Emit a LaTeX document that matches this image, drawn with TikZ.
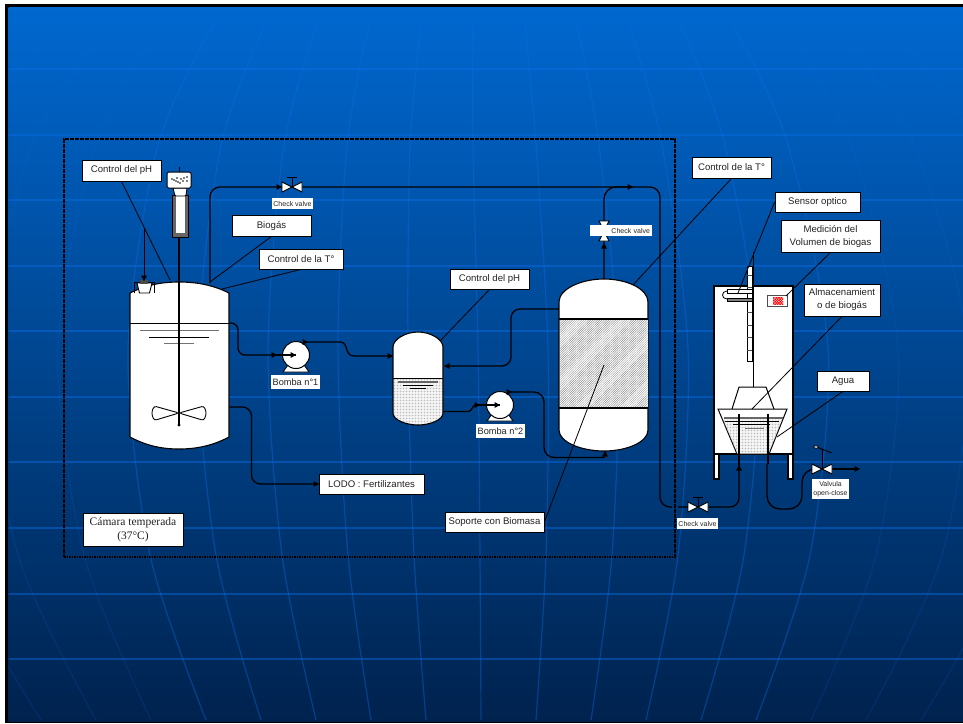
\documentclass[tikz,border=0pt]{standalone}
\usepackage{fontspec}
\setmainfont{Liberation Sans}
\newfontfamily\timesf{Liberation Serif}
\usetikzlibrary{patterns.meta}
\definecolor{gridc}{RGB}{10,110,230}
\definecolor{inkc}{RGB}{35,35,35}
\tikzset{
  lblbox/.style={draw=black,line width=.8pt,fill=white,text=inkc,inner sep=0pt,align=center,font=\fontsize{9.6}{13}\selectfont},
  tag/.style={fill=white,text=inkc,inner sep=0pt,align=center},
  smalltag/.style={tag,font=\fontsize{7}{9.5}\selectfont},
  bombatag/.style={tag,font=\fontsize{9.2}{11}\selectfont},
  pipe/.style={line width=1.3pt,black,rounded corners=#1},
  pipe/.default=9pt,
  leader/.style={line width=.8pt,black},
  vessel/.style={draw=black,line width=1.1pt,fill=white},
  packing/.style={pattern={Lines[angle=45,distance=1.6pt,line width=.3pt]},pattern color=black!55},
  stipple/.style={pattern={Dots[radius=.3pt,distance=1.5pt]},pattern color=black!40},
  tickg/.style={line width=1pt,black!55},
  tickk/.style={line width=.7pt,black}
}
\newcommand{\lbl}[7][]{%
  \pgfmathsetmacro\cx{(#3+#5)/2}\pgfmathsetmacro\cy{(#4+#6)/2}%
  \pgfmathsetmacro\ww{#5-#3}\pgfmathsetmacro\hh{#6-#4}%
  \fill[black!55] (#3+.8,#4+.8) rectangle (#5+.8,#6+.8);
  \node[lblbox,minimum width=\ww pt,minimum height=\hh pt,#1] (#2) at (\cx,\cy) {#7};}
\newcommand{\atip}[3]{\fill[black,shift={(#1,#2)},rotate=#3] (0,0)--(-5.5,-3)--(-5.5,3)--cycle;}
\newcommand{\vbow}[3]{% name x y
  \coordinate (#1) at (#2,#3);
  \draw[black,line width=.9pt,fill=white] (#2-10,#3-5)--(#2,#3)--(#2-10,#3+5)--cycle;
  \draw[black,line width=.9pt,fill=white] (#2+10,#3-5)--(#2,#3)--(#2+10,#3+5)--cycle;}
\begin{document}
\begin{tikzpicture}[x=1pt,y=-1pt]
\useasboundingbox (0,0) rectangle (963,723);
\fill[white] (0,0) rectangle (963,723);
\fill[black] (5,4) rectangle (963,723);
\begin{scope}
\clip (8.5,7) rectangle (963,721);
\shade[top color={rgb,255:red,0;green,104;blue,208},middle color={rgb,255:red,0;green,76;blue,152},bottom color={rgb,255:red,0;green,34;blue,78}] (8,6) rectangle (963,722);
\foreach \yy in {69,135,200,266,331,397,462,528,594,659}
  \draw[gridc,opacity=.45,line width=1.2pt] (8,\yy)--(963,\yy);
\foreach \k in {-8,...,8}{
  \pgfmathsetmacro\op{abs(\k)>5?0.15:0.38}
  \draw[gridc,opacity=\op,line width=1.2pt] plot[smooth] coordinates {({473+\k*52},25) ({473+\k*63},145) ({478+\k*70},350) ({480+\k*66},555) ({481+\k*55},720)};
}
\end{scope}
% chamber frame
\node[draw=black,line width=2.4pt,dash pattern=on 1.6pt off .9pt,minimum width=611pt,minimum height=418pt,inner sep=0pt] (camara) at (369.5,348) {};
% named pipe ends
\coordinate (gasout) at (210,283);
\coordinate (lvl) at (130,323);
\coordinate (slout) at (229,407);
% pipes
\draw[pipe=10pt] (gasout)--(210,187)--(660,187)--(660,507)--(672,507);
\draw[pipe=12pt] (604,281)--(604,187)--(632,187);
\draw[pipe=7pt] (lvl)--(238,323)--(238,355)--(296,355);
\draw[pipe] (slout)--(251.5,407)--(251.5,484)--(318,484);
\draw[pipe=0pt] (304,342)--(340,342) .. controls (349,342) and (344,356) .. (354,356)--(392,356);
\draw[pipe] (560,309)--(511,309)--(511,366)--(445,366);
\draw[pipe=0pt] (443,411.5)--(468,411.5) .. controls (473,411.5) and (471,405) .. (477,405)--(499,405);
\draw[pipe=10pt] (508,392)--(544,392)--(544,457.5)--(604,457.5);
\draw[pipe=0pt] (604,457.5)--(606,452);
\draw[pipe=9pt] (678,507)--(739,507)--(739,466);
\draw[pipe=13pt] (767,464)--(767,509)--(802,509)--(802,469)--(822,469);
\draw[pipe=0pt] (832,469)--(858,469);
% reactor
\draw[vessel] (130,293) .. controls (145,285.5) and (160,282) .. (179,282) .. controls (198,282) and (214,285.5) .. (229,293)--(229,437) .. controls (214,445) and (198,449) .. (179,449) .. controls (160,449) and (145,445) .. (130,437)--cycle;
\draw[line width=.9pt] (lvl)--(229,323);
\draw[tickg] (140,330)--(219,330);
\draw[tickk] (149,337)--(209,337);
\draw[tickg] (164,343)--(194,343);
% impeller
\draw[line width=.9pt,fill=white,rounded corners=2.5pt] (179,413)--(154,406)--(151.5,413)--(154,420.5)--cycle;
\draw[line width=.9pt,fill=white,rounded corners=2.5pt] (179,413)--(204,406)--(206.5,413)--(204,420.5)--cycle;
\draw[line width=2.4pt] (179,237)--(179,424);
\fill (179,425) circle (1.7);
% motor
\draw[line width=1pt] (179,167)--(179,172);
\draw[line width=.9pt,fill=black!60] (172,195) rectangle (188,237);
\fill[white] (175.5,195) rectangle (185,233);
\draw[line width=.9pt,fill=white,rounded corners=1pt] (173,188)--(175,196)--(186,196)--(187,188)--cycle;
\draw[line width=1pt,fill=white,rounded corners=1.5pt] (167,172) rectangle (191,188);
\foreach \px/\py in {172/179, 174/180, 176/181, 178/182, 177/178, 181/179, 183/181, 184/178, 187/177, 187/181, 180/183}
  \fill (\px,\py) circle (.85);
% pH probe
\draw[line width=.8pt] (134.5,293)--(134.5,282)--(154,282)--(154,293);
\draw[line width=.9pt,fill=white] (137,283)--(152,283)--(149.5,293)--(139.5,293)--cycle;
\fill[black!70] (140,280) rectangle (148,284);
% small tank
\fill[white] (393,347) .. controls (393,339) and (406,332) .. (418,332) .. controls (430,332) and (443,339) .. (443,347)--(443,413) .. controls (443,420) and (430,425) .. (418,425) .. controls (406,425) and (393,420) .. (393,413)--cycle;
\fill[stipple] (393,378)--(443,378)--(443,413) .. controls (443,420) and (430,425) .. (418,425) .. controls (406,425) and (393,420) .. (393,413)--cycle;
\draw[line width=1.1pt] (393,347) .. controls (393,339) and (406,332) .. (418,332) .. controls (430,332) and (443,339) .. (443,347)--(443,413) .. controls (443,420) and (430,425) .. (418,425) .. controls (406,425) and (393,420) .. (393,413)--cycle;
\draw[line width=.9pt] (393,378)--(443,378);
\draw[line width=1.4pt,black!60] (398,382)--(438,382);
\draw[tickk] (403,385)--(433,385);
\draw[tickk] (410,388.5)--(426,388.5);
% big tank
\draw[vessel] (559,302) .. controls (559,289) and (581,279) .. (604,279) .. controls (627,279) and (648,289) .. (648,302)--(648,430) .. controls (648,442) and (627,451) .. (604,451) .. controls (581,451) and (559,442) .. (559,430)--cycle;
\fill[white] (559.5,319) rectangle (647.5,408);
\fill[packing] (559.5,319) rectangle (647.5,408);
\draw[line width=1.1pt] (559,319)--(648,319) (559,408)--(648,408);
% pumps
\draw[line width=.8pt,fill=white] (283,372)--(288,365)--(304,365)--(309,372)--cycle;
\node[circle,draw=black,line width=1pt,fill=white,minimum size=27pt,inner sep=0pt] (bomba1) at (296,355) {};
\draw[pipe=0pt] (277,355)--(bomba1.center);
\draw[line width=.8pt,fill=white] (487,421)--(492,414)--(508,414)--(513,421)--cycle;
\node[circle,draw=black,line width=1pt,fill=white,minimum size=27pt,inner sep=0pt] (bomba2) at (500,405) {};
\draw[pipe=0pt] (477,405)--(bomba2.center);
% storage cabinet
\draw[vessel] (714,454) rectangle (719,479);
\draw[vessel] (788,454) rectangle (793,479);
\draw[vessel] (714,286) rectangle (793,454);
\draw[line width=.8pt] (753,252)--(753,387);
\draw[line width=.9pt,fill=white] (747,266) rectangle (752,361);
\foreach \ty in {275,287,300,312,325,337,350} \draw[line width=.7pt,black!70] (747,\ty)--(752,\ty);
% optical sensor
\draw[line width=.8pt,fill=white] (727,289) rectangle (752,293);
\draw[line width=.8pt,fill=black!50] (727,298) rectangle (752,301);
\draw[line width=.8pt] (727,291) .. controls (721,291) and (721,299) .. (727,299);
% indicator
\draw[line width=1pt,draw=black!70,fill=white] (767,295) rectangle (787,306);
\fill[pattern={Lines[angle=45,distance=1.8pt,line width=.7pt]},pattern color=red] (773,297) rectangle (783,304);
\fill[pattern={Lines[angle=-45,distance=1.8pt,line width=.7pt]},pattern color=red] (773,297) rectangle (783,304);
% bell and basin
\draw[line width=1pt,fill=white] (732,409)--(739,387)--(766,387)--(774,409);
\draw[line width=1pt,fill=white] (718,409)--(787,409)--(769,454)--(737,454)--cycle;
\fill[stipple] (721.8,418)--(783.4,418)--(769,454)--(737,454)--cycle;
\draw[line width=1.3pt,black!60] (724,418)--(783,418);
\draw[tickk] (725,421)--(779,421);
\draw[tickk] (733,424)--(770,424);
\draw[tickg] (745,428)--(764,428);
\draw[line width=2.4pt] (739,414)--(739,468);
\draw[line width=2.4pt] (768,414)--(768,464);
% leaders
\coordinate (phprobe) at (144,280);
\coordinate (phtap) at (144,228);
\coordinate (r1dome) at (170,280);
\coordinate (r1gas) at (210,282);
\coordinate (r1temp) at (222,289);
\coordinate (stank) at (441,340);
\coordinate (btemp) at (633,285);
\coordinate (bed) at (604,365);
\coordinate (sens) at (738,293);
\coordinate (indic) at (786,296);
\coordinate (bell) at (752,409);
\coordinate (water) at (777,437);
% check valves
\vbow{cv1}{292}{187}
\draw[line width=.9pt] (cv1)--(292,177) (287,177)--(297,177);
\vbow{cv3}{698}{507}
\draw[line width=.9pt] (cv3)--(698,497) (693,497)--(703,497);
\vbow{vo}{822}{469}
\draw[line width=.9pt] (vo)--(822,449);
\draw[line width=.9pt] (814,446)--(832,453);
\draw[line width=.8pt,fill=white] (816,447) ellipse (2.4 and 1.2);
\draw[black,line width=.9pt,fill=white] (599,221)--(609,221)--(604,231)--cycle;
\draw[black,line width=.9pt,fill=white] (599,241)--(609,241)--(604,231)--cycle;
% arrow tips
\atip{282}{187}{0}
\atip{633}{187}{0}
\atip{604}{243}{90}
\atip{277}{355}{0}
\atip{296}{355}{0}
\atip{308}{342}{0}
\atip{393}{356}{0}
\atip{444}{366}{180}
\atip{480}{405}{0}
\atip{500}{405}{0}
\atip{512}{392}{0}
\atip{605}{451}{90}
\atip{319}{484}{0}
\atip{739}{465}{90}
\atip{860}{469}{0}
\atip{144}{281}{270}
% labels
\lbl{lbpHa}{82}{160}{161}{181}{Control del pH}
\lbl{lbBio}{232}{215}{311}{236}{Biogás}
\lbl{lbTa}{259}{249}{343}{269}{Control de la T°}
\lbl{lbpHb}{450}{269}{529}{289}{Control del pH}
\lbl{lbTb}{692}{157}{771}{178}{Control de la T°}
\lbl{lbSens}{775}{192}{860}{212}{Sensor optico}
\lbl{lbMed}{781}{220}{880}{252}{Medición del\\Volumen de biogas}
\lbl{lbAlm}{804}{284}{880}{316}{Almacenamient\\o de biogás}
\lbl{lbAgua}{817}{371}{869}{391}{Agua}
\lbl{lbLodo}{319}{474}{424}{494}{LODO : Fertilizantes}
\lbl{lbSop}{445}{512}{544}{532}{Soporte con Biomasa}
\lbl[font=\timesf\fontsize{11.5}{14}\selectfont]{lbCam}{83}{513}{183}{546}{Cámara temperada\\(37°C)}
\draw[leader] (lbpHa.south)--(r1dome);
\draw[leader] (phtap)--(phprobe);
\draw[leader] (lbBio.south)--(r1gas);
\draw[leader] (lbTa.south)--(r1temp);
\draw[leader] (lbpHb.south)--(stank);
\draw[leader] (lbTb.south)--(btemp);
\draw[leader] (lbSop.east)--(bed);
\draw[leader] (lbSens.west)--(sens);
\draw[leader] (lbMed.south)--(indic);
\draw[leader] (lbAlm.south)--(bell);
\draw[leader] (lbAgua.south)--(water);
\node[bombatag,minimum width=49pt,minimum height=14pt] (tb1) at (295.5,382) {Bomba n°1};
\node[bombatag,minimum width=49pt,minimum height=14pt] (tb2) at (500.5,431) {Bomba n°2};
\node[smalltag,minimum width=41pt,minimum height=11pt] (tcv1) at (292.5,203.5) {Check valve};
\node[smalltag,minimum width=62pt,minimum height=11pt,text width=58pt,align=right] (tcv2) at (621,230.5) {Check valve};
\node[smalltag,minimum width=41pt,minimum height=11pt] (tcv3) at (697.5,523.5) {Check valve};
\node[smalltag,minimum width=37pt,minimum height=20pt] (tvo) at (830.5,489) {Valvula\\open-close};
\end{tikzpicture}
\end{document}
